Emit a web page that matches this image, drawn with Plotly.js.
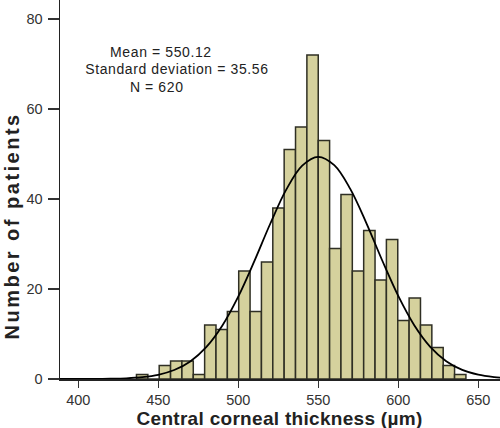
<!DOCTYPE html>
<html>
<head>
<meta charset="utf-8">
<script src="https://cdn.plot.ly/plotly-3.0.1.min.js"></script>
<style>
html,body{margin:0;padding:0;background:#fff;}
#chart{width:500px;height:428px;}
.annotation[data-index="0"] text,
.annotation[data-index="1"] text,
.annotation[data-index="2"] text{letter-spacing:0.6px;}
.annotation[data-index="3"] text{letter-spacing:2.5px;}
.annotation[data-index="4"] text{letter-spacing:0.3px;}
</style>
</head>
<body>
<div id="chart"></div>
<script>
// Histogram bins: lower edges (µm) and patient counts
const binEdges = [436.4, 443.5, 450.6, 457.7, 464.8, 471.9, 479.0, 486.1, 493.2, 500.3,
                  507.4, 514.5, 521.6, 528.7, 535.8, 542.9, 550.0, 557.1, 564.2, 571.3,
                  578.4, 585.5, 592.6, 599.7, 606.8, 613.9, 621.0, 628.1, 635.2];
const binWidth = 7.1;
const counts = [1, 0, 3, 4, 4, 1, 12, 11, 15, 24,
                15, 26, 38, 51, 56, 72, 53, 29, 41, 24,
                33, 22, 31, 13, 18, 12, 7, 3, 1];

// Fitted normal curve
const curveX = [388, 400, 410, 420, 430, 440, 450, 460, 470, 480, 490, 500, 510, 520, 530,
                540, 550, 560, 570, 580, 590, 600, 610, 620, 630, 640, 650, 660, 665];
const curveY = [0.00, 0.01, 0.02, 0.06, 0.16, 0.41, 0.94, 1.99, 3.90, 7.07, 11.83, 18.29, 26.13, 34.50, 42.08,
                47.42, 49.38, 47.51, 42.24, 34.70, 26.33, 18.46, 11.96, 7.16, 3.96, 2.02, 0.96, 0.42, 0.27];

// Summary statistics text
const statLines = ["Mean = 550.12", "Standard deviation = 35.56", "N = 620"];
const statPos = [[451.7, 72.6], [461.5, 68.9], [449.0, 64.8]];

const xTicks = [400, 450, 500, 550, 600, 650];
const yTicks = [0, 20, 40, 60, 80];
const xTitle = "Central corneal thickness (µm)";
const yTitle = "Number of patients";

const FONT = "Arial, 'Liberation Sans', sans-serif";

const binCenters = binEdges.map(e => e + binWidth / 2);

const bars = {
  type: 'bar',
  x: binCenters,
  y: counts,
  width: binWidth,
  marker: {color: '#d5d19d', line: {color: '#2f2f24', width: 1.5}},
  hoverinfo: 'x+y',
  showlegend: false
};

const curve = {
  type: 'scatter',
  mode: 'lines',
  x: curveX,
  y: curveY,
  line: {color: '#000', width: 1.8, shape: 'spline', smoothing: 1},
  showlegend: false
};

const annotations = statLines.map((t, i) => ({
  text: t,
  x: statPos[i][0],
  y: statPos[i][1],
  xref: 'x',
  yref: 'y',
  showarrow: false,
  xanchor: 'center',
  yanchor: 'middle',
  font: {size: 14, color: '#222', family: FONT}
}));

// y-axis title (placed like the reference, below the axis centre)
annotations.push({
  text: yTitle,
  textangle: -90,
  xref: 'paper',
  yref: 'y',
  x: 0,
  xshift: -48,
  y: 34,
  showarrow: false,
  xanchor: 'center',
  yanchor: 'middle',
  font: {size: 20, color: '#222', family: FONT, weight: 'bold'}
});

// x-axis title
annotations.push({
  text: xTitle,
  xref: 'x',
  yref: 'paper',
  x: 525.9,
  y: 0,
  yshift: -27,
  showarrow: false,
  xanchor: 'center',
  yanchor: 'top',
  font: {size: 19, color: '#222', family: FONT, weight: 'bold'}
});

const layout = {
  width: 500,
  height: 428,
  margin: {l: 60, r: 0, t: 0, b: 49, pad: 0},
  paper_bgcolor: '#fff',
  plot_bgcolor: '#fff',
  bargap: 0,
  font: {family: FONT, color: '#333'},
  xaxis: {
    range: [388.6, 663.6],
    tickvals: xTicks,
    ticktext: xTicks.map(String),
    ticks: 'outside',
    ticklen: 7,
    tickwidth: 1.3,
    tickcolor: '#333',
    tickfont: {size: 14.5, color: '#333'},
    showline: true,
    linecolor: '#222',
    linewidth: 1.5,
    showgrid: false,
    zeroline: false
  },
  yaxis: {
    range: [0, 84.22],
    tickvals: yTicks,
    ticks: 'outside',
    ticklen: 11,
    tickwidth: 1.3,
    tickcolor: '#333',
    tickfont: {size: 14.5, color: '#333'},
    ticklabelstandoff: 2,
    showline: true,
    linecolor: '#222',
    linewidth: 1.5,
    showgrid: false,
    zeroline: false
  },
  annotations: annotations
};

Plotly.newPlot('chart', [bars, curve], layout, {displayModeBar: false, staticPlot: true});
</script>
</body>
</html>
